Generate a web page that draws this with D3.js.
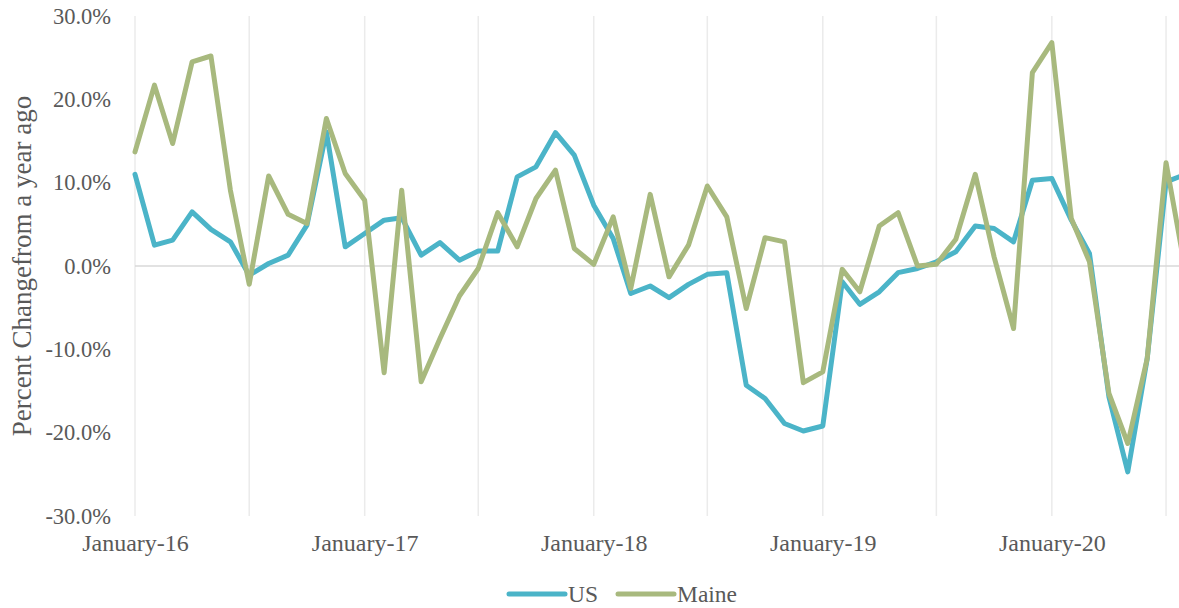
<!DOCTYPE html>
<html>
<head>
<meta charset="utf-8">
<script src="https://cdn.jsdelivr.net/npm/d3@7"></script>
<style>
  body { margin: 0; background: #fff; }
  svg text { fill: #595959; }
</style>
</head>
<body>
<div id="chart-area"></div>
<script>
// months, Jan 2016 .. Aug 2020
var months = [
	'2016-01','2016-02','2016-03','2016-04','2016-05','2016-06','2016-07','2016-08','2016-09','2016-10','2016-11','2016-12',
	'2017-01','2017-02','2017-03','2017-04','2017-05','2017-06','2017-07','2017-08','2017-09','2017-10','2017-11','2017-12',
	'2018-01','2018-02','2018-03','2018-04','2018-05','2018-06','2018-07','2018-08','2018-09','2018-10','2018-11','2018-12',
	'2019-01','2019-02','2019-03','2019-04','2019-05','2019-06','2019-07','2019-08','2019-09','2019-10','2019-11','2019-12',
	'2020-01','2020-02','2020-03','2020-04','2020-05','2020-06','2020-07','2020-08'
];

// percent change from a year ago
var us = [
	11.0, 2.5, 3.1, 6.5, 4.4, 2.9, -1.1, 0.3, 1.3, 4.9, 16.1, 2.3,
	3.9, 5.5, 5.8, 1.3, 2.8, 0.7, 1.8, 1.8, 10.7, 11.9, 16.0, 13.3,
	7.3, 3.3, -3.3, -2.4, -3.8, -2.2, -1.0, -0.8, -14.3, -15.9, -18.9, -19.8,
	-19.2, -1.9, -4.6, -3.1, -0.8, -0.3, 0.5, 1.7, 4.8, 4.5, 2.9, 10.3,
	10.5, 5.5, 1.5, -15.7, -24.7, -11.1, 10.1, 11.0
];
var maine = [
	13.7, 21.7, 14.7, 24.5, 25.2, 9.1, -2.2, 10.8, 6.2, 5.1, 17.7, 11.1,
	7.9, -12.8, 9.1, -13.9, -8.7, -3.6, -0.3, 6.4, 2.3, 8.1, 11.5, 2.1,
	0.2, 5.9, -2.7, 8.6, -1.3, 2.5, 9.6, 5.9, -5.1, 3.4, 2.9, -14.0,
	-12.7, -0.4, -3.1, 4.8, 6.4, 0.0, 0.2, 3.2, 11.0, 1.1, -7.5, 23.2,
	26.8, 5.7, 0.5, -15.3, -21.3, -11.1, 12.4, -0.6
];

var yTicks = [-30, -20, -10, 0, 10, 20, 30];
var seriesNames = ['US', 'Maine'];
var seriesColors = ['#4bb4c8', '#a8b97e'];

var width = 1179, height = 608;
var plot = { left: 135, right: 1185.5, top: 16, bottom: 516 };
var serif = "'Liberation Serif', 'Times New Roman', serif";

var parseMonth = d3.timeParse('%Y-%m');
var dates = months.map(parseMonth);

var svg = d3.select('#chart-area')
	.append('svg')
		.attr('width', width)
		.attr('height', height)
		.style('font-family', serif);

var x = d3.scaleTime()
	.domain([dates[0], dates[dates.length - 1]])
	.range([plot.left, plot.right]);

var y = d3.scaleLinear()
	.domain([-30, 30])
	.range([plot.bottom, plot.top]);

// vertical gridlines every six months
var gridDates = dates.filter(d => d.getMonth() % 6 === 0);
svg.append('g')
	.selectAll('line')
	.data(gridDates)
	.enter().append('line')
		.attr('x1', d => x(d))
		.attr('x2', d => x(d))
		.attr('y1', plot.top)
		.attr('y2', plot.bottom)
		.attr('stroke', '#ebebeb')
		.attr('stroke-width', 1.5);

// zero line
svg.append('line')
	.attr('x1', plot.left)
	.attr('x2', width)
	.attr('y1', y(0))
	.attr('y2', y(0))
	.attr('stroke', '#d9d9d9')
	.attr('stroke-width', 1.5);

// y axis labels
var yAxis = d3.axisLeft(y)
	.tickValues(yTicks)
	.tickFormat(d => d.toFixed(1) + '%')
	.tickSize(0)
	.tickPadding(24);

var yAxisGroup = svg.append('g')
	.attr('transform', 'translate(' + plot.left + ', 0)')
	.call(yAxis)
	.attr('font-family', null);
yAxisGroup.select('.domain').remove();
yAxisGroup.selectAll('text')
	.style('font-family', serif)
	.style('font-size', '22.5px')
	.style('fill', '#595959');

// x axis labels, January of each year
var xAxis = d3.axisBottom(x)
	.tickValues(dates.filter(d => d.getMonth() === 0))
	.tickFormat(d3.timeFormat('%B-%y'))
	.tickSize(0)
	.tickPadding(18);

var xAxisGroup = svg.append('g')
	.attr('transform', 'translate(0, ' + plot.bottom + ')')
	.call(xAxis)
	.attr('font-family', null);
xAxisGroup.select('.domain').remove();
xAxisGroup.selectAll('text')
	.style('font-family', serif)
	.style('font-size', '24px')
	.style('fill', '#595959');

// y axis title
svg.append('text')
	.attr('x', -y(0))
	.attr('y', 31)
	.attr('transform', 'rotate(-90)')
	.attr('text-anchor', 'middle')
	.style('font-size', '27px')
	.text('Percent Changefrom a year ago');

// lines
var line = d3.line()
	.x((d, i) => x(dates[i]))
	.y(d => y(d));

[us, maine].forEach((values, k) => {
	svg.append('path')
		.datum(values)
		.attr('d', line)
		.attr('fill', 'none')
		.attr('stroke', seriesColors[k])
		.attr('stroke-width', 5)
		.attr('stroke-linejoin', 'round')
		.attr('stroke-linecap', 'round');
});

// legend
var legendX = [509, 618];
var legend = svg.append('g');
seriesNames.forEach((name, k) => {
	legend.append('line')
		.attr('x1', legendX[k])
		.attr('x2', legendX[k] + 56)
		.attr('y1', 594)
		.attr('y2', 594)
		.attr('stroke', seriesColors[k])
		.attr('stroke-width', 5)
		.attr('stroke-linecap', 'round');
	legend.append('text')
		.attr('x', legendX[k] + 59)
		.attr('y', 602)
		.style('font-size', '23.5px')
		.text(name);
});
</script>
</body>
</html>
